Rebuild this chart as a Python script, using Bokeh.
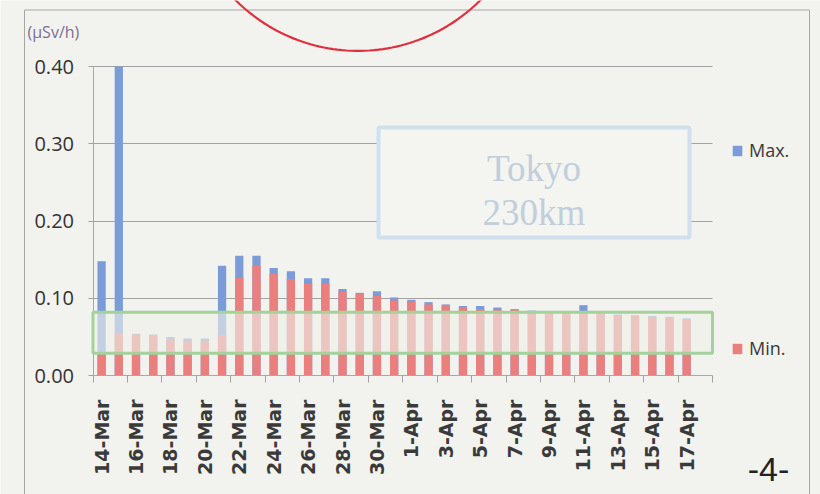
import numpy as np
from bokeh.plotting import figure
from bokeh.models import (ColumnDataSource, FixedTicker, NumeralTickFormatter, BoxAnnotation,
                          PolyAnnotation, Label, Legend, LegendItem, Range1d)
from bokeh.embed import file_html
from bokeh.resources import INLINE

# ---------------- data ----------------
dates = ["14-Mar", "15-Mar", "16-Mar", "17-Mar", "18-Mar", "19-Mar", "20-Mar", "21-Mar",
         "22-Mar", "23-Mar", "24-Mar", "25-Mar", "26-Mar", "27-Mar", "28-Mar", "29-Mar",
         "30-Mar", "31-Mar", "1-Apr", "2-Apr", "3-Apr", "4-Apr", "5-Apr", "6-Apr",
         "7-Apr", "8-Apr", "9-Apr", "10-Apr", "11-Apr", "12-Apr", "13-Apr", "14-Apr",
         "15-Apr", "16-Apr", "17-Apr", "18-Apr"]
max_vals = [0.148, 0.400, 0.054, 0.053, 0.050, 0.048, 0.048, 0.142,
            0.155, 0.155, 0.139, 0.135, 0.126, 0.126, 0.112, 0.107,
            0.109, 0.101, 0.098, 0.095, 0.092, 0.090, 0.090, 0.088,
            0.086, 0.084, 0.083, 0.082, 0.091, 0.081, 0.079, 0.078,
            0.077, 0.076, 0.074]
min_vals = [0.028, 0.054, 0.053, 0.052, 0.047, 0.045, 0.045, 0.052,
            0.127, 0.142, 0.132, 0.125, 0.119, 0.119, 0.108, 0.106,
            0.103, 0.097, 0.096, 0.092, 0.091, 0.088, 0.086, 0.085,
            0.085, 0.082, 0.081, 0.081, 0.082, 0.080, 0.078, 0.077,
            0.076, 0.075, 0.073]
y_ticks = [0.0, 0.1, 0.2, 0.3, 0.4]
unit_label = "(\u00b5Sv/h)"
series_names = ["Max.", "Min."]
box_title = ["Tokyo", "230km"]
page_label = "-4-"

# ---------------- geometry (canvas pixels of the plot area) ----------------
W, H = 820, 494
NCAT = len(dates)
PX_L, PX_R = 92.5, 712.0      # plot area left/right (px)
PX_T, PX_B = 66.0, 375.0      # plot area top (0.40) / bottom (0.00)
X0, X1 = -0.5, NCAT - 0.5
Y0, Y1 = 0.0, 0.4
SX = (X1 - X0) / (PX_R - PX_L)
SY = (Y1 - Y0) / (PX_B - PX_T)


def px2x(px):
    return X0 + (px - PX_L) * SX


def px2y(py):
    return Y0 + (PX_B - py) * SY


BG = "#f2f2ee"
BLUE = "#7b9bd9"
RED = "#ea7f7e"

p = figure(width=W, height=H, output_backend="svg", toolbar_location=None,
           x_range=Range1d(px2x(0), px2x(W)), y_range=Range1d(px2y(H), px2y(0)),
           min_border=0, min_border_left=0, min_border_right=0,
           min_border_top=0, min_border_bottom=0,
           background_fill_color=BG, border_fill_color=BG, outline_line_color=None)

src = ColumnDataSource(dict(x=list(range(len(max_vals))), mx=max_vals, mn=min_vals))
r_max = p.vbar(x="x", top="mx", bottom=0, width=0.48, source=src, fill_color=BLUE, line_color=None)
r_min = p.vbar(x="x", top="mn", bottom=0, width=0.48, source=src, fill_color=RED, line_color=None)

# axes (drawn at fixed data locations inside the canvas)
xa = p.xaxis[0]
xa.fixed_location = Y0
xa.bounds = (X0, X1)
xa.ticker = FixedTicker(ticks=list(range(0, NCAT, 2)),
                        minor_ticks=[i - 0.5 for i in range(0, NCAT + 1, 2)])
xa.major_label_overrides = {i: dates[i] for i in range(0, NCAT, 2)}
xa.major_label_orientation = np.pi / 2
xa.major_tick_out = 0
xa.major_tick_in = 0
xa.minor_tick_out = 7
xa.minor_tick_in = 0
xa.minor_tick_line_color = "#a0a0a0"
xa.axis_line_color = "#a8a8a8"
xa.major_label_standoff = 17
xa.major_label_text_font = "DejaVu Sans"
xa.major_label_text_font_style = "bold"
xa.major_label_text_font_size = "19px"
xa.major_label_text_color = "#3a3a3a"

ya = p.yaxis[0]
ya.fixed_location = X0
ya.bounds = (Y0, Y1)
ya.ticker = FixedTicker(ticks=y_ticks)
ya.formatter = NumeralTickFormatter(format="0.00")
ya.major_tick_out = 5
ya.major_tick_in = 0
ya.minor_tick_out = 0
ya.minor_tick_in = 0
ya.major_tick_line_color = "#a0a0a0"
ya.axis_line_color = "#a8a8a8"
ya.major_label_standoff = 14
ya.major_label_text_font = "Open Sans"
ya.major_label_text_font_size = "20px"
ya.major_label_text_color = "#333333"

p.xgrid.grid_line_color = None
p.ygrid.ticker = FixedTicker(ticks=[v for v in y_ticks if v > 0])
p.ygrid.cross_bounds = (X0, X1)
p.ygrid.grid_line_color = "#a3a3a3"
p.ygrid.grid_line_width = 1

# overlays
green = BoxAnnotation(left=X0, right=X1, bottom=px2y(352.7), top=px2y(311.7),
                      fill_color="#eff1e8", fill_alpha=0.62,
                      line_color="#a3d29a", line_width=3, line_alpha=1.0)
p.add_layout(green)

tokyo = BoxAnnotation(left=px2x(378), right=px2x(689), top=px2y(127), bottom=px2y(237),
                      fill_color="#f4f4f1", fill_alpha=1.0, line_color="#cfe0ee", line_width=4,
                      line_alpha=1.0)
p.add_layout(tokyo)
for txt, base in zip(box_title, [168, 212]):
    p.add_layout(Label(x=px2x(533.5), y=px2y(base), text=txt, text_align="center",
                       text_baseline="alphabetic", text_font="Liberation Serif",
                       text_font_size="37px", text_color="#c0cfdb"))

# outer chart border
p.add_layout(BoxAnnotation(left=px2x(24), right=px2x(809), top=px2y(9.5), bottom=px2y(700),
                           fill_alpha=0, line_color="#a6a6a6", line_width=1, line_alpha=1.0))

# unit label and page number
p.add_layout(Label(x=px2x(27), y=px2y(31), text=unit_label, text_font="Open Sans",
                   text_font_size="16px", text_color="#7d6f92", text_baseline="alphabetic"))
p.add_layout(Label(x=px2x(768), y=px2y(469), text=page_label, text_align="center",
                   text_font="Liberation Sans", text_font_size="34px", text_color="#222222",
                   text_baseline="middle"))

# red hand-drawn circle from the previous page
t = np.linspace(0, np.pi, 120)
cx, cy, rr = 357.5, -122.6, 173.0
p.add_layout(PolyAnnotation(xs=[px2x(v) for v in cx + rr * np.cos(t)],
                            ys=[px2y(v) for v in cy + rr * np.sin(t)],
                            fill_alpha=0, line_color="#e0303f", line_width=2.2, line_alpha=1.0))

# legends
for name, rend, cyref in [(series_names[0], r_max, 150), (series_names[1], r_min, 348)]:
    lg = Legend(items=[LegendItem(label=name, renderers=[rend])],
                location=(731, (H - cyref) - 12),
                glyph_width=12, glyph_height=13, label_standoff=6, label_height=20,
                padding=0, margin=0, spacing=0,
                border_line_color=None, background_fill_alpha=0,
                label_text_font="Open Sans", label_text_font_size="18px",
                label_text_color="#3a3a3a")
    p.add_layout(lg, "center")

open("out.html", "w").write(file_html(p, INLINE))
